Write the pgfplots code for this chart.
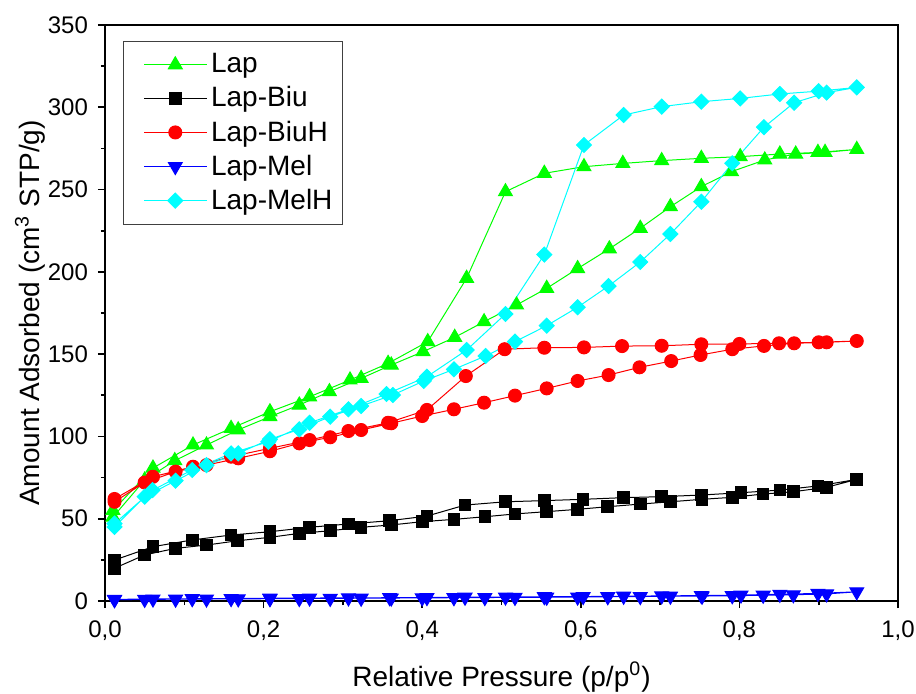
\documentclass[border=0pt]{standalone}
\usepackage{fontspec}
\setmainfont{Liberation Sans}
\usepackage{pgfplots}
\pgfplotsset{compat=1.18}
\definecolor{cgreen}{RGB}{0,255,0}
\definecolor{cred}{RGB}{255,0,0}
\definecolor{cblue}{RGB}{0,0,255}
\definecolor{ccyan}{RGB}{0,255,255}
\begin{document}
\begin{tikzpicture}
\useasboundingbox (-52.5pt,-46pt) rectangle (405.5pt,300.5pt);
\begin{axis}[
  at={(0pt,0pt)}, anchor=south west,
  scale only axis, width=396.5pt, height=288pt,
  xmin=0, xmax=1, ymin=0, ymax=350,
  xtick={0,0.2,0.4,0.6,0.8,1.0}, ytick={0,50,...,350},
  minor x tick num=1, minor y tick num=1,
  tick align=outside, xtick pos=bottom, ytick pos=left,
  major tick length=3.5pt, minor tick length=2pt,
  every tick/.style={black, line width=0.8pt},
  axis line style={line width=1pt},
  /pgf/number format/assume math mode=true,
  tick label style={font=\fontsize{12}{14}\selectfont},
  x tick label style={yshift=-3pt, /pgf/number format/.cd, use comma, fixed, fixed zerofill, precision=1, /tikz/.cd},
  y tick label style={xshift=-1.5pt, /pgf/number format/.cd, fixed, precision=0, /tikz/.cd},
  label style={font=\fontsize{14}{16}\selectfont},
  xlabel style={at={(axis description cs:0.5,-0.132)}, anchor=center},
  ylabel style={at={(axis description cs:-0.0946,0.5)}, anchor=center},
  xlabel={Relative Pressure (p/p\textsuperscript{0})},
  ylabel={Amount Adsorbed (cm\textsuperscript{3} STP/g)},
  legend cell align=left,
  legend style={at={(rel axis cs:0.0227,0.972)}, anchor=north west, draw=black!75, line width=0.5pt,
    font=\fontsize{14}{16}\selectfont, row sep=1.4pt, inner ysep=4pt},
  legend image code/.code={\path (-7pt,0pt); \draw[mark repeat=2, mark phase=2] plot coordinates {(0cm,0cm) (0.55cm,0cm) (1.1cm,0cm)};},
]
\addplot[color=cgreen, line width=0.5pt, mark=triangle*, mark size=4pt] coordinates {
(0.010,51) (0.050,73.5) (0.088,85.3) (0.128,94.8) (0.168,104) (0.208,112) (0.245,119.1) (0.283,127.2) (0.323,135.3) (0.361,143.4) (0.401,151.5) (0.441,160.2) (0.478,169.7) (0.519,179.9) (0.557,190) (0.596,202) (0.636,214) (0.675,226.5) (0.713,239.6) (0.752,251.8) (0.790,260.9) (0.832,268) (0.871,271.6) (0.908,272.6) (0.948,274.4)
(0.899,272.6) (0.851,271.6) (0.801,270) (0.752,269) (0.702,267.6) (0.653,265.9) (0.604,263.9) (0.554,259.9) (0.505,248.7) (0.456,196.1) (0.407,157.6) (0.357,144.4) (0.309,134.3) (0.258,124.1) (0.208,115) (0.159,104.9) (0.111,94.8) (0.0605,80.8) (0.010,55)
};
\addlegendentry{Lap}
\addplot[color=black, line width=0.5pt, mark=square*, mark size=2.9pt] coordinates {
(0.012,19.9) (0.050,28) (0.089,32) (0.128,34) (0.167,36.6) (0.208,38.7) (0.245,41.1) (0.284,42.7) (0.323,44.8) (0.361,46.2) (0.400,48.2) (0.440,49.6) (0.479,51.2) (0.517,52.9) (0.557,54.3) (0.596,55.7) (0.634,57.3) (0.675,58.9) (0.713,60.3) (0.753,61.8) (0.791,63) (0.830,65) (0.868,66.4) (0.910,69.1) (0.948,73.9)
(0.899,69.9) (0.851,67.4) (0.802,65.8) (0.752,64.4) (0.702,63.4) (0.654,62.8) (0.603,61.8) (0.554,61) (0.505,60.3) (0.454,58.3) (0.406,51.6) (0.359,48.8) (0.307,46.8) (0.258,44.8) (0.208,42.1) (0.159,40.1) (0.110,37.1) (0.0605,33) (0.012,24.9)
};
\addlegendentry{Lap-Biu}
\addplot[color=cred, line width=0.5pt, mark=*, mark size=3.25pt] coordinates {
(0.012,60.3) (0.050,72) (0.089,78.6) (0.128,82.6) (0.168,86.7) (0.208,91) (0.245,95.8) (0.284,99.5) (0.323,103.9) (0.361,108) (0.400,112.4) (0.440,116.5) (0.478,120.5) (0.517,124.8) (0.557,129.2) (0.596,133.7) (0.635,137.3) (0.674,142) (0.714,145.8) (0.751,149.5) (0.791,153) (0.831,155) (0.869,156.6) (0.910,157.2) (0.948,158)
(0.900,157.2) (0.850,156.6) (0.800,156.2) (0.752,156) (0.702,155.1) (0.652,154.9) (0.604,154.1) (0.554,153.9) (0.504,153) (0.455,136.7) (0.406,116.1) (0.357,108.3) (0.307,103.3) (0.258,97.8) (0.208,92.8) (0.159,87.7) (0.111,81.6) (0.0605,75.5) (0.012,62)
};
\addlegendentry{Lap-BiuH}
\addplot[color=cblue, line width=0.5pt, mark=triangle*, mark size=4pt, mark options={rotate=180}] coordinates {
(0.012,0.8) (0.050,1.0) (0.089,1.1) (0.128,1.2) (0.168,1.3) (0.208,1.4) (0.245,1.5) (0.284,1.6) (0.323,1.7) (0.361,1.8) (0.400,1.9) (0.440,2.0) (0.479,2.1) (0.517,2.2) (0.557,2.3) (0.596,2.4) (0.634,2.6) (0.675,2.7) (0.713,2.9) (0.753,3.0) (0.791,3.2) (0.830,3.5) (0.868,3.8) (0.910,4.3) (0.948,5.6)
(0.899,4.6) (0.851,4.1) (0.802,3.6) (0.752,3.3) (0.702,3.1) (0.654,2.9) (0.603,2.7) (0.554,2.6) (0.505,2.4) (0.454,2.3) (0.406,2.1) (0.359,2.0) (0.307,1.9) (0.258,1.8) (0.208,1.7) (0.159,1.5) (0.110,1.4) (0.0605,1.2) (0.012,1.0)
};
\addlegendentry{Lap-Mel}
\addplot[color=ccyan, line width=0.5pt, mark=square*, mark size=2.65pt, mark options={rotate=45}] coordinates {
(0.012,45) (0.050,63.4) (0.089,73.1) (0.128,82.6) (0.168,89.7) (0.208,98.3) (0.245,104.3) (0.284,112) (0.323,118.5) (0.363,125.2) (0.402,133.7) (0.440,140.8) (0.480,148.9) (0.517,157.6) (0.557,167.3) (0.596,178.5) (0.635,191.4) (0.675,206) (0.713,223) (0.752,242.6) (0.791,266) (0.831,287.9) (0.869,302.8) (0.910,308.9) (0.948,312.1)
(0.900,309.8) (0.851,308.1) (0.801,305.4) (0.752,303.4) (0.702,300.4) (0.654,295.3) (0.604,277.1) (0.554,210.5) (0.505,174.4) (0.456,152.5) (0.406,136.3) (0.355,125.8) (0.307,116.5) (0.258,108.3) (0.206,96.8) (0.159,89.7) (0.110,79.6) (0.060,67.4) (0.012,47)
};
\addlegendentry{Lap-MelH}
\end{axis}
\end{tikzpicture}
\end{document}
